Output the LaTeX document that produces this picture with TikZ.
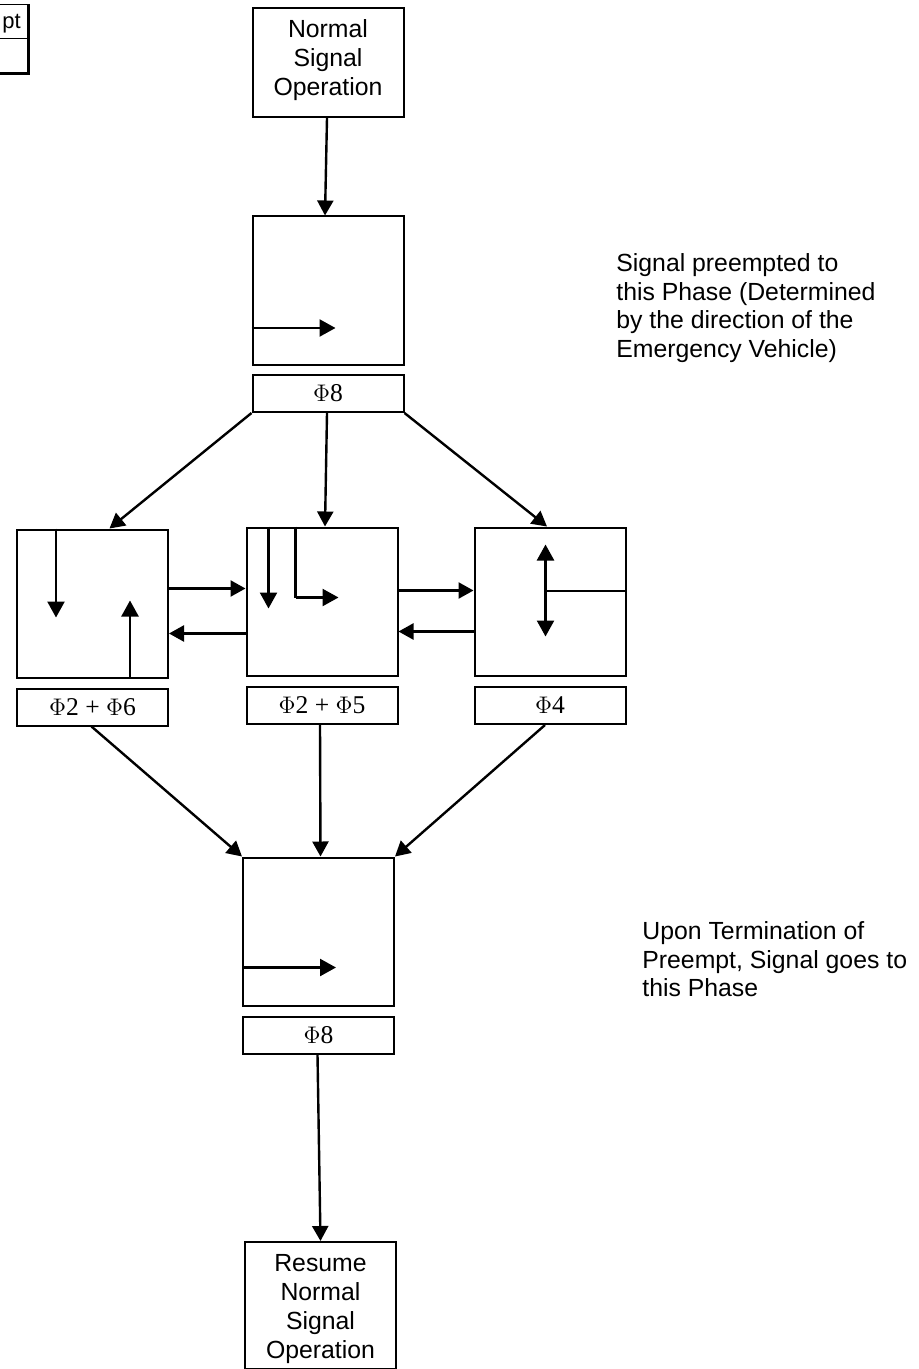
\documentclass[tikz,border=0pt]{standalone}
\usepackage{fontspec}
\setmainfont{Liberation Sans}
\newfontfamily\phifont{Liberation Serif}
\usetikzlibrary{arrows.meta}
\tikzset{
  phasebox/.style={draw, line width=1pt, minimum width=75.5pt, minimum height=74pt, inner sep=0pt},
  namebox/.style={draw, line width=1pt, minimum width=75.5pt, minimum height=18.5pt, inner sep=0pt, font=\phifont\fontsize{12.8}{14}\selectfont},
  textbox/.style={draw, line width=1pt, minimum width=75.5pt, align=center, inner sep=0pt, font=\fontsize{12.4}{14.5}\selectfont},
  note/.style={anchor=north west, align=left, inner sep=0pt, font=\fontsize{12.4}{14.4}\selectfont},
  flow/.style={line width=1.2pt, -{Triangle[length=7.5pt,width=8pt]}},
  move/.style={line width=1.2pt, -{Triangle[length=8pt,width=8.5pt]}}
}
\begin{document}
\begin{tikzpicture}[x=0.5pt, y=-0.5pt]
\useasboundingbox (0,0) rectangle (919,1369);
\fill[white] (0,0) rectangle (919,1369);
% corner fragment
\draw[line width=0.5pt] (0,39) -- (28,39);
\draw[line width=0.5pt] (0,5) -- (28,5);
\draw[line width=1.5pt] (28,4) -- (28,73.5) -- (0,73.5);
\node[inner sep=0pt, font=\fontsize{11}{12}\selectfont, anchor=base west] (frag) at (2,29) {pt};
% boxes
\node[textbox, minimum height=54.5pt] (normal) at (328,62.5) {Normal\\Signal\\\rule[-5pt]{0pt}{5pt}Operation};
\node[phasebox] (pre) at (328,290.5) {};
\node[namebox] (prename) at (328,393.5) {$\Phi$8};
\node[phasebox] (left) at (92.5,603.5) {};
\node[namebox] (leftname) at (92.5,707) {$\Phi$2 + $\Phi$6};
\node[phasebox] (mid) at (322,601.5) {};
\node[namebox] (midname) at (322,705.5) {$\Phi$2 + $\Phi$5};
\node[phasebox] (right) at (550,601.5) {};
\node[namebox] (rightname) at (550,705.5) {$\Phi$4};
\node[phasebox] (end) at (318.5,931.5) {};
\node[namebox] (endname) at (318.5,1035) {$\Phi$8};
\node[textbox, minimum height=63.5pt] (resume) at (320.5,1305.5) {\rule{0pt}{12.5pt}Resume\\Normal\\Signal\\Operation};
% notes
\node[note] (noteA) at (616,253) {Signal preempted to\\this Phase (Determined\\by the direction of the\\Emergency Vehicle)};
\node[note] (noteB) at (642,921) {Upon Termination of\\Preempt, Signal goes to\\this Phase};
% main flow
\draw[flow] ([xshift=-0.5pt]normal.south) -- ([xshift=-1.5pt]pre.north);
\draw[flow] (prename.south west) -- ([xshift=8.5pt]left.north);
\draw[flow] ([xshift=-0.5pt]prename.south) -- ([xshift=1.5pt]mid.north);
\draw[flow] (prename.south east) -- ([xshift=-1.5pt]right.north);
\draw[flow] ([xshift=-0.5pt]leftname.south) -- (end.north west);
\draw[flow] ([xshift=-1pt]midname.south) -- ([xshift=1pt]end.north);
\draw[flow] ([xshift=-2.5pt]rightname.south) -- (end.north east);
\draw[flow] ([xshift=-0.5pt]endname.south) -- (resume.north);
% between phases
\draw[flow] ([yshift=7.5pt]left.east) -- ([yshift=6.5pt]mid.west);
\draw[flow] ([yshift=-16pt]mid.west) -- ([yshift=-15pt]left.east);
\draw[flow] ([yshift=5.5pt]mid.east) -- ([yshift=5.5pt]right.west);
\draw[flow] ([yshift=-15pt]right.west) -- ([yshift=-15pt]mid.east);
% phase movements
\draw[move] ([yshift=-18.75pt]pre.west) -- ++(84,0);
\draw[move] ([xshift=20pt]left.north west) -- ++(0,89);
\draw[move] ([xshift=-19.5pt]left.south east) -- ++(0,-78);
\draw[move] ([xshift=11.5pt]mid.north west) -- ++(0,82);
\draw[line width=1.2pt] ([xshift=25pt]mid.north west) -- ++(0,71) coordinate (midturn);
\draw[move] (midturn) -- ++(43,0);
\coordinate (rightstem) at ([xshift=-40.5pt,yshift=5.5pt]right.east);
\draw[line width=1pt] ([yshift=5.5pt]right.east) -- (rightstem);
\draw[move] (rightstem) -- ++(0,-46);
\draw[move] (rightstem) -- ++(0,46);
\draw[move] ([yshift=-18pt]end.west) -- ++(94,0);
\end{tikzpicture}
\end{document}
